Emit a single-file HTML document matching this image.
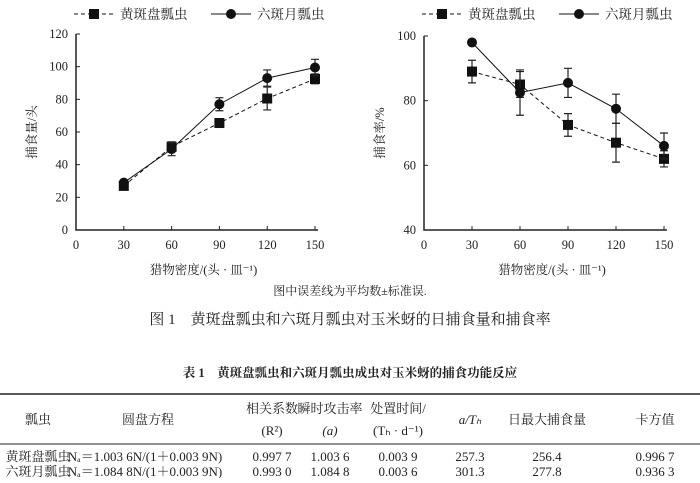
<!DOCTYPE html>
<html><head><meta charset="utf-8"><style>
body{margin:0;background:#fff;}
svg text{font-family:"Liberation Serif","Noto Serif CJK SC",serif;fill:#222;}
</style></head><body>
<svg id="s" width="700" height="478" viewBox="0 0 700 478" xmlns="http://www.w3.org/2000/svg">
<g id="cl"></g>
<g id="cr"></g>
<text x="350" y="295" font-size="12" text-anchor="middle">图中误差线为平均数±标准误.</text>
<text x="350" y="324" font-size="15" text-anchor="middle">图 1　黄斑盘瓢虫和六斑月瓢虫对玉米蚜的日捕食量和捕食率</text>
<text x="350" y="377" font-size="12.5" font-weight="bold" text-anchor="middle" font-family="Liberation Sans,Noto Sans CJK SC,sans-serif">表 1　黄斑盘瓢虫和六斑月瓢虫成虫对玉米蚜的捕食功能反应</text>
<g font-size="13">
<line x1="0" y1="394" x2="700" y2="394" stroke="#222" stroke-width="1.5"/>
<line x1="0" y1="444" x2="700" y2="444" stroke="#222" stroke-width="1"/>
<g text-anchor="middle">
<text x="38" y="424">瓢虫</text><text x="148" y="424">圆盘方程</text>
<text x="272" y="413">相关系数</text><text x="272" y="435">(R²)</text>
<text x="330" y="413">瞬时攻击率</text><text x="330" y="435" font-style="italic">(a)</text>
<text x="398" y="413">处置时间/</text><text x="398" y="435">(Tₕ · d⁻¹)</text>
<text x="470" y="424" font-style="italic">a/Tₕ</text>
<text x="547" y="424">日最大捕食量</text><text x="655" y="424">卡方值</text>
</g>
<g text-anchor="middle">
<text x="38" y="461">黄斑盘瓢虫</text><text x="145" y="461">Nₐ＝1.003 6N/(1＋0.003 9N)</text>
<text x="272" y="461">0.997 7</text><text x="330" y="461">1.003 6</text><text x="398" y="461">0.003 9</text>
<text x="470" y="461">257.3</text><text x="547" y="461">256.4</text><text x="655" y="461">0.996 7</text>
</g>
<g text-anchor="middle">
<text x="38" y="476">六斑月瓢虫</text><text x="145" y="476">Nₐ＝1.084 8N/(1＋0.003 9N)</text>
<text x="272" y="476">0.993 0</text><text x="330" y="476">1.084 8</text><text x="398" y="476">0.003 6</text>
<text x="470" y="476">301.3</text><text x="547" y="476">277.8</text><text x="655" y="476">0.936 3</text>
</g>
</g>
</svg>
<script>
const densities=[30,60,90,120,150];
const xTicks=[0,30,60,90,120,150];
const leftYTicks=[0,20,40,60,80,100,120];
const rightYTicks=[40,60,80,100];
const leftHuang=[27,51,65.5,80.5,92.5];
const leftHuangErr=[1,3,2,7,3];
const leftLiu=[29,49.5,77,93,99.5];
const leftLiuErr=[1,4,4,5,5];
const rightHuang=[89,85,72.5,67,62];
const rightHuangErr=[3.5,4,3.5,6,2.5];
const rightLiu=[98,82.5,85.5,77.5,66];
const rightLiuErr=[0,7,4.5,4.5,4];
const NS="http://www.w3.org/2000/svg";
function mk(p,tag,a){const e=document.createElementNS(NS,tag);for(const k in a)e.setAttribute(k,a[k]);p.appendChild(e);return e;}
function chart(g,x0,x1,yT,yB,ymin,ymax,yticks,ylab,s1,e1,s2,e2){
 const X=v=>x0+(v/150)*(x1-x0), Y=v=>yB-(v-ymin)/(ymax-ymin)*(yB-yT);
 const ax=mk(g,'path',{d:`M${x0},${yT} V${yB} H${x1+3}`,stroke:'#222','stroke-width':1.5,fill:'none'});
 
 
 yticks.forEach(t=>{mk(g,'line',{x1:x0,x2:x0+4,y1:Y(t),y2:Y(t),stroke:'#222'});
  const tx=mk(g,'text',{x:x0-8,y:Y(t)+4,'font-size':12.5,'text-anchor':'end'});tx.textContent=t;
  
  });
 xTicks.forEach(t=>{mk(g,'line',{x1:X(t),x2:X(t),y1:yB,y2:yB-4,stroke:'#222'});
  const tx=mk(g,'text',{x:X(t),y:yB+19,'font-size':12.5,'text-anchor':'middle'});tx.textContent=t;
  
  });
 const xl=mk(g,'text',{x:(x0+x1)/2+8,y:yB+44,'font-size':12.5,'text-anchor':'middle'});xl.textContent='猎物密度/(头 · 皿⁻¹)';
 
 
 const yl=mk(g,'text',{x:0,y:0,'font-size':12.5,'text-anchor':'middle',transform:`translate(${x0-40},${(yT+yB)/2}) rotate(-90)`});yl.textContent=ylab;
 
 
 [[s1,e1,'4,3','sq'],[s2,e2,'','ci']].forEach(([s,e,da,m])=>{
  const pts=densities.map((d,i)=>X(d)+','+Y(s[i])).join(' ');
  const l=mk(g,'polyline',{points:pts,fill:'none',stroke:'#111','stroke-width':1,'stroke-dasharray':da});
  
  
  densities.forEach((d,i)=>{const cx=X(d),cy=Y(s[i]);
   if(e[i]>0){const t=Y(s[i]+e[i]),b=Y(s[i]-e[i]);
    const eb=mk(g,'path',{d:`M${cx},${t}V${b}M${cx-4},${t}H${cx+4}M${cx-4},${b}H${cx+4}`,stroke:'#222','stroke-width':1.2,fill:'none'});
    
    }
   const p=m=='sq'?mk(g,'rect',{x:cx-5,y:cy-5,width:10,height:10,fill:'#111'}):mk(g,'circle',{cx:cx,cy:cy,r:5,fill:'#111'});
   
   });
 });
 const lx=x0-2;
 mk(g,'line',{x1:lx,x2:lx+40,y1:14,y2:14,stroke:'#111','stroke-dasharray':'4,3'});
 mk(g,'rect',{x:lx+15,y:9,width:10,height:10,fill:'#111'});
 const t1=mk(g,'text',{x:lx+46,y:19,'font-size':13.5});t1.textContent='黄斑盘瓢虫';
 
 
 mk(g,'line',{x1:lx+137,x2:lx+177,y1:14,y2:14,stroke:'#111'});
 mk(g,'circle',{cx:lx+157,cy:14,r:5,fill:'#111'});
 const t2=mk(g,'text',{x:lx+183,y:19,'font-size':13.5});t2.textContent='六斑月瓢虫';
 
 
}
chart(document.getElementById('cl'),76,315,34,230,0,120,leftYTicks,'捕食量/头',leftHuang,leftHuangErr,leftLiu,leftLiuErr);
chart(document.getElementById('cr'),424,664,36,230,40,100,rightYTicks,'捕食率/%',rightHuang,rightHuangErr,rightLiu,rightLiuErr);
</script>
</body></html>
